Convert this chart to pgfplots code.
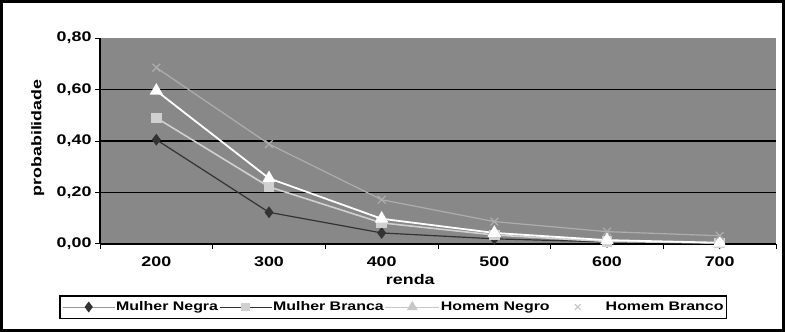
\documentclass[border=0pt]{standalone}
\usepackage{pgfplots}
\pgfplotsset{compat=1.18}
\usepackage{fontspec}
\setmainfont[FakeStretch=1.28]{Liberation Sans}
\definecolor{bg}{HTML}{888888}
\definecolor{mn}{HTML}{333333}
\definecolor{mb}{HTML}{D0D0D0}
\definecolor{hb}{HTML}{ADADAD}
\definecolor{lg}{HTML}{C8C8C8}
\definecolor{lm}{HTML}{999999}
\begin{document}
\begin{tikzpicture}
\useasboundingbox (0,0) rectangle (785bp,332bp);
\draw[line width=3bp] (1.5bp,1.5bp) rectangle (783.5bp,330.5bp);
\begin{axis}[
  at={(100bp,88bp)}, anchor=south west,
  scale only axis, width=676bp, height=206bp,
  xmin=-0.5, xmax=5.5, ymin=0, ymax=0.8,
  axis background/.style={fill=bg},
  axis x line*=bottom, axis y line*=left,
  axis line style={black, line width=1.2bp, -},
  xtick={0,...,5}, xticklabels={200,300,400,500,600,700},
  minor xtick={-0.5,0.5,1.5,2.5,3.5,4.5,5.5},
  ytick={0,0.2,0.4,0.6,0.8},
  extra y ticks={0.2,0.4,0.6},
  extra y tick labels={},
  extra y tick style={grid=major, major tick length=0pt},
  major grid style={black, line width=1.2bp},
  tick align=outside,
  x tick style={draw=none},
  minor x tick style={draw=black, line width=1bp},
  minor tick length=5bp,
  y tick style={black, line width=1bp},
  major tick length=5bp,
  tick label style={font=\bfseries\fontsize{14}{16}\selectfont},
  /pgf/number format/assume math mode=true,
  yticklabel style={/pgf/number format/.cd, fixed, fixed zerofill, precision=2, use comma},
  xticklabel style={yshift=-4bp},
  xlabel={renda}, ylabel={probabilidade},
  label style={font=\bfseries\fontsize{14}{16}\selectfont},
  xlabel style={at={(axis description cs:0.459,-0.17)}, anchor=center},
  ylabel style={at={(axis description cs:-0.092,0.515)}, anchor=center},
  legend columns=4,
  legend style={at={(axis description cs:0.434,-0.306)}, anchor=center,
    draw=black, line width=1.5bp, fill=white,
    font=\bfseries\fontsize{12.5}{14}\selectfont,
    inner xsep=2bp, inner ysep=4bp,
    /tikz/every even column/.append style={column sep=0bp},
    nodes={inner xsep=1bp}},
]
\addplot[mn, line width=1.2bp, mark=diamond*, mark size=5bp, mark options={fill=mn, draw=mn},
  legend image code/.code={\draw[lm, line width=1bp] (0bp,0bp) -- (52bp,0bp);
    \draw[mn, mark=diamond*, mark size=4.5bp, mark options={fill=mn, draw=mn}, only marks] plot coordinates {(26bp,0bp)};}]
  coordinates {(0,0.405) (1,0.123) (2,0.043) (3,0.02) (4,0.008) (5,0.003)};
\addlegendentry{Mulher Negra}
\addplot[mb, line width=1.6bp, mark=square*, mark size=4.5bp, mark options={fill=mb, draw=mb},
  legend image code/.code={\draw[mn, line width=1bp] (0bp,0bp) -- (52bp,0bp);
    \draw[mb, mark=square*, mark size=3.5bp, mark options={fill=mb, draw=mb}, only marks] plot coordinates {(26bp,0bp)};}]
  coordinates {(0,0.49) (1,0.222) (2,0.082) (3,0.035) (4,0.01) (5,0.004)};
\addlegendentry{Mulher Branca}
\addplot[white, line width=1.8bp, mark=triangle*, mark size=6bp, mark options={fill=white, draw=white},
  legend image code/.code={\draw[lg, line width=1bp] (0bp,0bp) -- (54bp,0bp);
    \draw[lg, mark=triangle*, mark size=4.5bp, mark options={fill=lg, draw=lg}, only marks] plot coordinates {(27bp,0bp)};}]
  coordinates {(0,0.595) (1,0.255) (2,0.098) (3,0.043) (4,0.015) (5,0.005)};
\addlegendentry{Homem Negro}
\addplot[hb, line width=1.2bp, mark=x, mark size=5.5bp, mark options={draw=hb, line width=1.2bp},
  legend image code/.code={\path[draw=none, fill=none] (0bp,0bp) -- (54bp,0bp);
    \draw[lg, mark=x, mark size=4bp, mark options={draw=lg, line width=1.2bp}, only marks] plot coordinates {(27bp,0bp)};}]
  coordinates {(0,0.685) (1,0.388) (2,0.172) (3,0.087) (4,0.048) (5,0.032)};
\addlegendentry{Homem Branco}
\end{axis}
\end{tikzpicture}
\end{document}
